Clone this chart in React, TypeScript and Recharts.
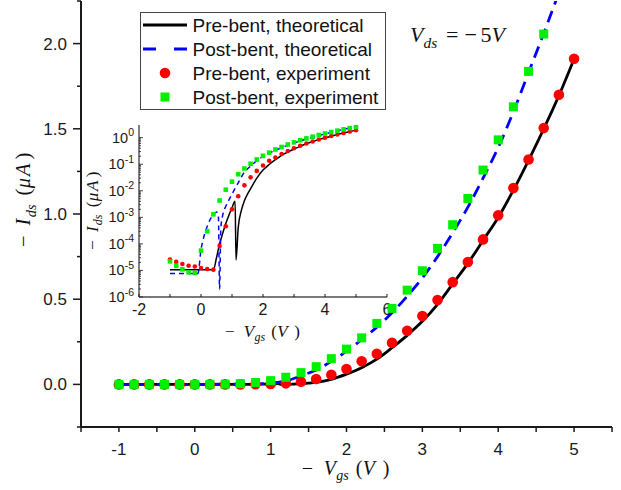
import { ComposedChart, Line, Scatter, XAxis, YAxis, Legend } from 'recharts'

// measured sweep, -Vgs in volts
const vgsMeasured = [-1, -0.8, -0.6, -0.4, -0.2, 0, 0.2, 0.4, 0.6, 0.8, 1, 1.2, 1.4, 1.6, 1.8, 2, 2.2, 2.4, 2.6, 2.8, 3, 3.2, 3.4, 3.6, 3.8, 4, 4.2, 4.4, 4.6, 4.8, 5]
// -Ids in uA
const idsPreExp = [2.6e-5, 2.1e-5, 1.75e-5, 1.5e-5, 1.4e-5, 1.24e-5, 1.13e-5, 1.07e-5, 8.3e-5, 4.6e-4, 2.0e-3, 6.2e-3, 0.016, 0.032, 0.056, 0.09, 0.136, 0.18, 0.244, 0.315, 0.401, 0.495, 0.6, 0.718, 0.851, 0.992, 1.152, 1.32, 1.504, 1.7, 1.911]
const idsPostExp = [2.2e-5, 1.5e-5, 1.1e-5, 8.5e-6, 8e-6, 5.6e-5, 3e-4, 1.3e-3, 4.3e-3, 0.011, 0.022, 0.042, 0.069, 0.104, 0.151, 0.207, 0.273, 0.358, 0.446, 0.553, 0.667, 0.798, 0.937, 1.091, 1.258, 1.435, 1.629, 1.837, 2.056, 2.29, 2.53]

// model curves (|Ids|, the dips are where the current changes sign)
const vgsPreTheory = [-1, 0.4, 0.5, 0.6, 0.7, 0.8, 0.9, 1.0, 1.1, 1.13, 1.2, 1.3, 1.4, 1.5, 1.6, 1.8, 2.0, 2.2, 2.4, 2.6, 2.8, 3.0, 3.2, 3.4, 3.6, 3.8, 4.0, 4.2, 4.4, 4.6, 4.8, 5.0]
const idsPreTheory = [1.07e-5, 1.07e-5, 3e-5, 1e-4, 2.5e-4, 5.8e-4, 1.2e-3, 2.3e-3, 4e-3, 2.5e-5, 4e-4, 1.8e-3, 4.2e-3, 7.5e-3, 0.012, 0.03, 0.06, 0.098, 0.148, 0.215, 0.288, 0.37, 0.47, 0.59, 0.71, 0.845, 0.98, 1.14, 1.315, 1.5, 1.695, 1.91]
const vgsPostTheory = [-1, -0.1, 0, 0.1, 0.2, 0.3, 0.4, 0.5, 0.56, 0.6, 0.64, 0.7, 0.8, 0.9, 1.0, 1.2, 1.4, 1.6, 1.8, 2.0, 2.2, 2.4, 2.6, 2.8, 3.0, 3.2, 3.4, 3.6, 3.8, 4.0, 4.2, 4.4, 4.6, 4.8, 5.0]
const idsPostTheory = [7.6e-6, 7.6e-6, 6e-5, 2e-4, 4.5e-4, 8.5e-4, 1.3e-3, 1.6e-3, 1.2e-3, 2e-6, 4e-4, 1.2e-3, 2.6e-3, 4.5e-3, 7.5e-3, 0.02, 0.05, 0.085, 0.135, 0.195, 0.263, 0.336, 0.42, 0.518, 0.625, 0.75, 0.89, 1.04, 1.21, 1.39, 1.6, 1.83, 2.06, 2.3, 2.55]

const mainXTicks = [-1.5, -1, -0.5, 0, 0.5, 1, 1.5, 2, 2.5, 3, 3.5, 4, 4.5, 5, 5.5]
const mainYTicks = [-0.25, 0, 0.25, 0.5, 0.75, 1, 1.25, 1.5, 1.75, 2, 2.25]
const insetXTicks = [-2, -1, 0, 1, 2, 3, 4, 5, 6]
const insetDecades = [-6, -5, -4, -3, -2, -1, 0]

const legendItems = [
  { label: 'Pre-bent, theoretical', kind: 'solid' },
  { label: 'Post-bent, theoretical', kind: 'dash' },
  { label: 'Pre-bent, experiment', kind: 'circle' },
  { label: 'Post-bent, experiment', kind: 'square' },
]

const pairs = (xs: number[], ys: number[]) => xs.map((x, i) => ({ x, y: ys[i] }))
const preExp = pairs(vgsMeasured, idsPreExp)
const postExp = pairs(vgsMeasured, idsPostExp)
const preTheory = pairs(vgsPreTheory, idsPreTheory)
const postTheory = pairs(vgsPostTheory, idsPostTheory)

// log ticks: every decade plus 2..9 in between
const insetYTicks: number[] = []
insetDecades.forEach((d) => {
  insetYTicks.push(Math.pow(10, d))
  if (d < 0) for (let m = 2; m <= 9; m++) insetYTicks.push(m * Math.pow(10, d))
})

const SANS = '"Liberation Sans", Arial, sans-serif'
const SERIF = '"Liberation Serif", "Times New Roman", serif'
const INK = '#1a1a1a'
const RED = '#ff0000'
const GREEN = '#00f000'
const BLUE = '#0000ff'

const MainXTick = ({ x, y, payload }: any) => {
  const v = payload.value
  const major = Number.isInteger(v)
  return (
    <g>
      <line x1={x} x2={x} y1={y} y2={y + 5} stroke={INK} strokeWidth={1.5} />
      {major && (
        <text x={x} y={y + 28} textAnchor="middle" fontFamily={SANS} fontSize={17} fill={INK}>
          {v}
        </text>
      )}
    </g>
  )
}

const MainYTick = ({ x, y, payload }: any) => {
  const v = payload.value
  const major = Math.abs(v * 2 - Math.round(v * 2)) < 1e-6
  return (
    <g>
      <line x1={x} x2={x - (major ? 8 : 4)} y1={y} y2={y} stroke={INK} strokeWidth={1.5} />
      {major && (
        <text x={x - 14} y={y + 6} textAnchor="end" fontFamily={SANS} fontSize={17} fill={INK}>
          {v.toFixed(1)}
        </text>
      )}
    </g>
  )
}

const InsetXTick = ({ x, y, payload }: any) => {
  const v = payload.value
  const major = v % 2 === 0
  return (
    <g>
      <line x1={x} x2={x} y1={y} y2={y - 3} stroke={INK} strokeWidth={1} />
      {major && (
        <text x={x} y={y + 18} textAnchor="middle" fontFamily={SANS} fontSize={16} fill={INK}>
          {v}
        </text>
      )}
    </g>
  )
}

const InsetYTick = ({ x, y, payload }: any) => {
  const lg = Math.log10(payload.value)
  const major = Math.abs(lg - Math.round(lg)) < 1e-6
  return (
    <g>
      <line x1={x} x2={x + (major ? 4 : 2)} y1={y} y2={y} stroke={INK} strokeWidth={0.8} />
      {major && (
        <text x={x - 5} y={y + 5} textAnchor="end" fontFamily={SANS} fontSize={14.5} fill={INK}>
          10<tspan fontSize={10.5} dy={-6.5}>{Math.round(lg)}</tspan>
        </text>
      )}
    </g>
  )
}

const dot = (r: number) => (p: any) => <circle cx={p.cx} cy={p.cy} r={r} fill={RED} />
const square = (s: number) => (p: any) => (
  <rect x={p.cx - s / 2} y={p.cy - s / 2} width={s} height={s} fill={GREEN} />
)

const LegendBox = () => (
  <svg width={246} height={98} style={{ display: 'block' }}>
    <rect x={0.5} y={0.5} width={245} height={97} fill="#fff" stroke="#444" strokeWidth={1} />
    {legendItems.map((it, i) => {
      const cy = 13 + i * 24
      return (
        <g key={it.label}>
          {it.kind === 'solid' && <line x1={3} x2={47} y1={cy} y2={cy} stroke="#000" strokeWidth={2.8} />}
          {it.kind === 'dash' && (
            <line x1={3} x2={47} y1={cy} y2={cy} stroke={BLUE} strokeWidth={2.8} strokeDasharray="13 18" />
          )}
          {it.kind === 'circle' && <circle cx={25} cy={cy} r={5.3} fill={RED} />}
          {it.kind === 'square' && <rect x={20.5} y={cy - 4.5} width={9} height={9} fill={GREEN} />}
          <text x={52.5} y={cy + 6.5} fontFamily={SANS} fontSize={19} fill="#111">
            {it.label}
          </text>
        </g>
      )
    })}
  </svg>
)

type Piece = { t: string; x: number; it?: boolean; sub?: boolean }

// TeX-like label built from positioned pieces; rot turns it to read bottom-up
const MathText = ({ x, y, size, pieces, rot }: { x: number; y: number; size: number; pieces: Piece[]; rot?: boolean }) => (
  <g transform={`translate(${x},${y})${rot ? ' rotate(-90)' : ''}`}>
    <text fontFamily={SERIF} fontSize={size} fill="#111">
      {pieces.map((p, i) => (
        <tspan
          key={i}
          x={p.x}
          y={p.sub ? size * 0.27 : 0}
          fontStyle={p.it ? 'italic' : 'normal'}
          fontSize={p.sub ? size * 0.7 : size}
        >
          {p.t}
        </tspan>
      ))}
    </text>
  </g>
)

const vgsLabel = (k: number): Piece[] => [
  { t: '\u2212', x: 0 },
  { t: 'V', x: 22 * k, it: true },
  { t: 'gs', x: 34.5 * k, it: true, sub: true },
  { t: '(', x: 54 * k },
  { t: 'V', x: 61 * k, it: true },
  { t: ')', x: 81 * k },
]
const idsLabel = (k: number): Piece[] => [
  { t: '\u2212', x: 0 },
  { t: 'I', x: 21 * k, it: true },
  { t: 'ds', x: 29 * k, it: true, sub: true },
  { t: '(', x: 50 * k },
  { t: '\u03bc', x: 57 * k, it: true },
  { t: 'A', x: 69 * k, it: true },
  { t: ')', x: 85 * k },
]
const vdsNote: Piece[] = [
  { t: 'V', x: 0, it: true },
  { t: 'ds', x: 13.5, it: true, sub: true },
  { t: '=', x: 36 },
  { t: '\u2212', x: 54.5 },
  { t: '5', x: 70.5 },
  { t: 'V', x: 81.5, it: true },
]

export default function App() {
  return (
    <div style={{ position: 'absolute', left: 0, top: 0, width: 621, height: 490, background: '#fff' }}>
      {/* log-scale inset */}
      <div style={{ position: 'absolute', left: 0, top: 0 }}>
        <ComposedChart width={400} height={350} margin={{ top: 125, right: 13, bottom: 0, left: 0 }}>
          <XAxis
            type="number"
            dataKey="x"
            domain={[-2, 6]}
            ticks={insetXTicks}
            interval={0}
            allowDataOverflow
            height={53}
            tickSize={0}
            tickMargin={0}
            tickLine={false}
            axisLine={{ stroke: '#7a7a7a', strokeWidth: 2 }}
            tick={(p: any) => <InsetXTick {...p} />}
          />
          <XAxis xAxisId="top" orientation="top" type="number" domain={[-2, 6]} height={0} tick={false} tickLine={false} axisLine={{ stroke: '#7a7a7a', strokeWidth: 1.6 }} />
          <YAxis
            type="number"
            dataKey="y"
            scale="log"
            domain={[1e-6, 3]}
            ticks={insetYTicks}
            interval={0}
            allowDataOverflow
            width={139}
            tickSize={0}
            tickMargin={0}
            tickLine={false}
            axisLine={{ stroke: '#000', strokeWidth: 1 }}
            tick={(p: any) => <InsetYTick {...p} />}
          />
          <YAxis yAxisId="right" orientation="right" type="number" domain={[0, 1]} width={0} tick={false} tickLine={false} axisLine={{ stroke: '#000', strokeWidth: 1 }} />
          <Line data={preTheory} dataKey="y" type="monotone" stroke="#000" strokeWidth={1.5} dot={false} activeDot={false} isAnimationActive={false} />
          <Line data={postTheory} dataKey="y" type="monotone" stroke={BLUE} strokeWidth={1.5} strokeDasharray="5 4" dot={false} activeDot={false} isAnimationActive={false} />
          <Scatter data={preExp} dataKey="y" shape={dot(2.3)} isAnimationActive={false} />
          <Scatter data={postExp} dataKey="y" shape={square(4.6)} isAnimationActive={false} />
        </ComposedChart>
      </div>

      {/* linear main plot */}
      <div style={{ position: 'absolute', left: 0, top: 0 }}>
        <ComposedChart width={621} height={490} margin={{ top: 1, right: 9, bottom: 0, left: 0 }}>
          <XAxis
            type="number"
            dataKey="x"
            domain={[-1.5, 5.5]}
            ticks={mainXTicks}
            interval={0}
            allowDataOverflow
            height={63}
            tickSize={0}
            tickMargin={0}
            tickLine={false}
            axisLine={{ stroke: INK, strokeWidth: 2 }}
            tick={(p: any) => <MainXTick {...p} />}
          />
          <XAxis xAxisId="top" orientation="top" type="number" domain={[-1.5, 5.5]} height={0} tick={false} tickLine={false} axisLine={{ stroke: INK, strokeWidth: 2 }} />
          <YAxis
            type="number"
            dataKey="y"
            domain={[-0.25, 2.25]}
            ticks={mainYTicks}
            interval={0}
            allowDataOverflow
            width={81}
            tickSize={0}
            tickMargin={0}
            tickLine={false}
            axisLine={{ stroke: INK, strokeWidth: 2 }}
            tick={(p: any) => <MainYTick {...p} />}
          />
          <YAxis yAxisId="right" orientation="right" type="number" domain={[-0.25, 2.25]} width={0} tick={false} tickLine={false} axisLine={{ stroke: INK, strokeWidth: 2 }} />
          <Line data={preTheory} dataKey="y" type="monotone" stroke="#000" strokeWidth={2.8} dot={false} activeDot={false} isAnimationActive={false} />
          <Line data={postTheory} dataKey="y" type="monotone" stroke={BLUE} strokeWidth={2.8} strokeDasharray="12 7" dot={false} activeDot={false} isAnimationActive={false} />
          <Scatter data={preExp} dataKey="y" shape={dot(5.3)} isAnimationActive={false} />
          <Scatter data={postExp} dataKey="y" shape={square(9)} isAnimationActive={false} />
          <Legend
            layout="horizontal"
            verticalAlign="middle"
            align="center"
            width={246}
            height={98}
            wrapperStyle={{ left: 140, top: 12, width: 246, height: 98 }}
            content={() => <LegendBox />}
          />
        </ComposedChart>
      </div>

      {/* axis titles and annotation */}
      <svg width={621} height={490} style={{ position: 'absolute', left: 0, top: 0, pointerEvents: 'none' }}>
        <MathText x={301.7} y={475} size={20} pieces={vgsLabel(1)} />
        <MathText x={30} y={247} size={20.5} pieces={idsLabel(1.03)} rot />
        <MathText x={225} y={336.7} size={17} pieces={vgsLabel(0.855)} />
        <MathText x={97.5} y={250} size={17} pieces={idsLabel(0.855)} rot />
        <MathText x={410} y={41.7} size={22} pieces={vdsNote} />
      </svg>
    </div>
  )
}
